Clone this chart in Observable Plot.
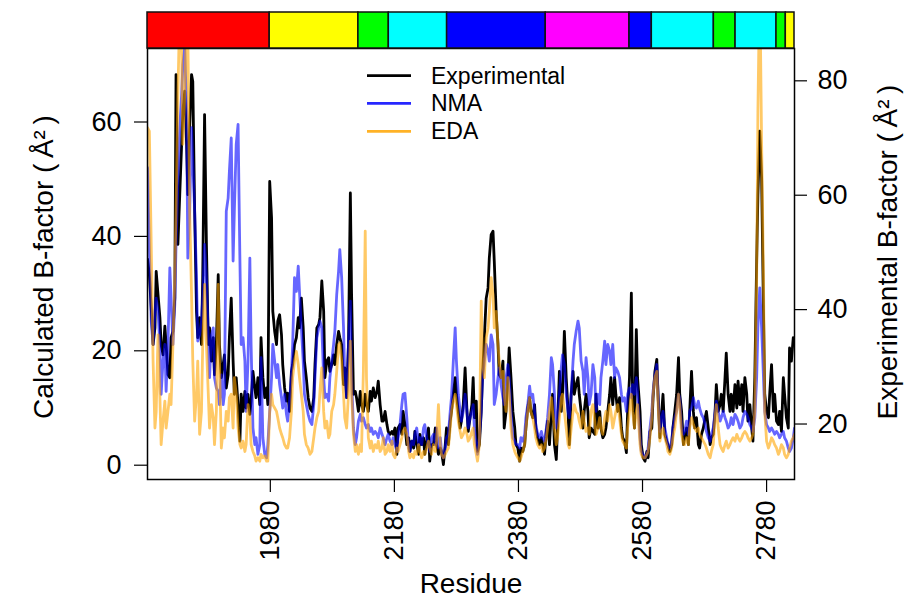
<!DOCTYPE html>
<html><head><meta charset="utf-8">
<script src="https://cdn.jsdelivr.net/npm/d3@7"></script>
<script src="https://cdn.jsdelivr.net/npm/@observablehq/plot@0.6"></script>
<style>
body{margin:0;background:#fff;font-family:"Liberation Sans",Arial,Helvetica,sans-serif}
#wrap{position:relative;width:909px;height:601px;overflow:hidden}
#wrap svg{position:absolute;left:0;top:0}
</style></head><body><div id="wrap"></div>
<script>
// Residue numbers (sampled)
const residue = [
1782,1785,1788,1791,1794,1796,1799,1802,1804,1807,1810,1812,1815,1818,1820,1823,1826,1828,1831,1834,1837,1839,1842,1845,1847,1850,1853,1855,1858,1861,1863,1866,1869,1871,1874,1877,1880,1882,1885,1888,1890,1893,1896,1898,1901,1904,1906,1909,1912,1914,1917,1920,1922,1925,1928,1931,1933,1936,1939,1941,1944,1947,1949,1952,1955,1957,1960,1963,1965,1968,1971,1974,1976,1979,1982,1984,1987,1990,1992,1995,1998,2000,2003,2006,2008,2011,2014,2016,2019,2022,2025,2027,2030,2033,2035,2038,2041,
2044,2047,2050,2052,2055,2058,2060,2063,2066,2068,2071,2074,2076,2079,2082,2084,2087,2090,2092,2095,2098,2100,2103,2106,2109,2111,2114,2117,2119,2122,2125,2127,2130,2133,2135,2138,2141,2143,2146,2149,2152,2154,2157,2160,2162,2165,2168,2170,2173,2176,2178,2181,2184,2186,2189,2192,2194,2197,2200,2203,2205,2208,2211,2213,2216,2219,2221,2224,2227,2229,2232,2235,2237,2240,2243,2246,2248,2251,2254,2256,2259,2262,2264,2267,2270,2272,2275,2278,2280,2283,2286,2288,2291,2294,2297,2299,2302,2305,2307,
2309,2312,2314,2317,2320,2322,2325,2328,2331,2333,2336,2339,2341,2344,2347,2349,2352,2355,2357,2360,2363,2365,2368,2371,2374,2376,2379,2382,2384,2387,2390,2392,2395,2398,2400,2403,2406,2408,2411,2414,2417,2419,2422,2425,2427,2430,2433,2435,2438,2441,2443,2446,2449,2451,2454,2457,2460,2462,2465,2468,2470,2473,2476,2478,2481,2484,2486,2489,2492,2494,2497,2500,2503,2505,2508,2511,2513,2516,2519,2521,2524,2527,2529,2532,2535,2537,2540,2543,2546,2548,2551,2554,2556,2559,2562,2564,2567,2570,2572,
2576,2578,2581,2584,2587,2589,2592,2595,2597,2600,2603,2605,2608,2611,2613,2616,2619,2621,2624,2627,2629,2632,2635,2638,2640,2643,2646,2648,2651,2654,2656,2659,2662,2664,2667,2670,2672,2675,2678,2681,2683,2686,2689,2691,2694,2697,2699,2702,2705,2707,2710,2713,2715,2718,2721,2723,2726,2729,2732,2734,2737,2740,2742,2745,2748,2750,2753,2756,2758,2761,2764,2766,2769,2772,2775,2777,2780,2783,2785,2788,2791,2793,2796,2799,2801,2804,2807,2809,2812,2815,2817,2820,2823,2825
];
// Experimental B-factor (right axis, Å²)
const experimental = [
48.8,46.1,40.3,33.9,36.8,46.7,42.6,38.6,33.9,32.1,37.1,33.9,28.6,28.1,35.1,36.2,42.0,81.1,51.4,60.1,
68.9,74.7,78.2,68.9,60.1,71.8,81.1,79.9,57.2,39.7,35.1,38.6,33.9,45.6,74.1,51.4,33.9,36.8,31.0,35.1,
28.6,33.9,46.1,33.9,28.1,30.4,32.1,26.3,28.6,35.1,42.0,31.0,25.2,28.1,23.4,17.0,25.2,22.2,25.7,22.8,
25.2,21.7,24.0,29.2,26.3,24.6,28.1,23.4,35.1,28.1,24.6,26.3,23.4,62.4,56.0,39.7,36.2,33.9,38.0,39.1,
35.6,30.4,26.3,24.0,25.4,22.2,29.2,30.4,33.9,35.1,38.6,36.8,42.0,36.8,31.0,28.1,24.6,
22.8,22.2,24.6,30.4,36.8,37.4,38.6,45.0,39.7,28.1,31.0,31.6,29.2,30.4,32.1,30.4,33.9,36.2,35.1,33.9,
26.9,29.8,24.6,33.9,60.4,42.6,25.2,25.7,24.6,22.2,25.7,23.4,22.2,25.2,23.4,22.2,25.7,24.0,26.3,24.6,
25.7,27.5,23.4,20.5,20.5,22.2,19.9,18.7,18.2,18.7,18.2,19.3,14.7,19.3,19.9,18.2,22.2,19.9,16.4,17.6,
15.2,17.0,15.8,18.7,16.4,14.7,18.2,16.4,17.6,14.7,17.0,19.3,13.5,16.4,16.4,19.3,16.4,14.7,15.8,15.2,
12.9,16.4,19.3,16.4,20.5,22.2,25.2,28.1,25.2,22.2,19.3,20.5,23.4,29.8,22.2,18.7,21.1,23.4,28.1,
21.1,24.0,15.2,16.4,22.2,28.1,35.1,42.0,43.8,49.0,53.1,53.7,48.5,39.7,33.9,28.6,28.1,31.0,19.3,22.2,
28.1,33.3,28.1,22.2,19.3,16.4,15.8,13.5,15.8,15.2,16.4,19.3,22.8,24.6,22.2,21.1,23.4,19.3,17.6,16.4,
17.6,16.4,14.7,18.7,20.5,16.4,22.2,25.2,16.4,13.8,19.3,29.2,22.2,25.2,36.2,28.1,22.2,16.4,25.2,29.2,
25.2,26.9,28.1,25.2,22.2,19.3,22.2,25.2,22.2,17.6,19.3,18.7,18.2,25.2,19.3,22.2,19.3,17.6,18.2,19.3,
22.2,25.2,28.1,23.4,28.1,25.2,22.2,24.6,19.3,17.6,17.0,15.0,22.2,28.1,42.9,25.2,19.3,36.5,28.1,
22.2,16.4,14.1,13.5,15.2,14.1,18.7,19.3,24.6,29.2,31.3,25.2,17.6,22.2,25.2,18.2,17.0,16.4,15.2,16.4,
19.3,22.2,25.2,31.6,25.2,22.2,16.4,17.6,19.3,16.4,22.2,29.2,22.2,19.3,21.1,16.4,15.8,18.2,19.3,21.1,
22.2,19.3,16.4,17.6,18.2,22.2,26.9,22.2,23.4,25.2,22.2,28.1,32.4,25.2,22.2,25.2,22.2,26.9,22.8,27.5,
23.4,26.9,22.2,28.1,25.2,20.5,23.4,19.3,17.0,28.1,48.5,60.1,71.2,63.0,39.7,25.2,22.2,21.1,25.2,30.4,
22.2,25.2,20.5,19.9,22.2,18.7,28.1,25.2,21.1,19.3,33.3,31.0,35.1,33.9
];
// NMA calculated B-factor (left axis, Å²)
const nma = [
52,38,25.2,21.1,26.9,29.2,26.9,21.1,12.4,18.2,21.1,12.9,21.1,34.5,29.2,21.1,28.1,38.6,49.1,59.0,
64.8,70.0,73.0,61.9,36.2,44.4,59.0,53.1,44.4,32.8,21.7,22.8,25.2,29.2,38.6,32.8,22.3,15.3,22.8,24.0,
15.3,13.5,12.9,10.6,15.8,10.6,12.4,44.4,46.7,51.4,57.2,35.7,44.4,56.1,59.6,35.7,21.1,22.3,18.2,9.4,
18.2,36.2,21.1,6.5,3.6,4.8,1.9,3.6,18.8,4.8,1.9,1.3,3.6,9.4,15.3,21.1,18.2,15.3,17.6,14.1,
11.8,10.0,12.4,8.9,7.7,11.2,15.8,21.1,32.8,30.4,34.8,30.4,24.0,18.2,12.4,10.6,8.9,
7.7,7.1,10.6,15.3,22.3,24.0,25.2,24.0,15.3,11.8,12.4,11.2,15.3,18.2,21.1,23.4,29.8,33.9,37.7,32.8,
24.0,15.3,11.8,21.1,28.7,15.3,6.5,3.6,4.8,7.7,8.9,7.7,8.3,7.1,6.5,7.1,5.9,6.5,5.4,5.9,
5.4,4.8,6.5,5.4,4.8,3.6,4.8,5.4,4.2,3.6,4.8,3.6,2.4,4.8,7.1,10.6,12.4,12.6,8.3,3.0,
2.4,4.2,3.6,5.4,6.5,3.6,4.8,3.6,6.5,7.1,4.8,3.6,2.4,4.8,5.4,3.6,6.5,3.0,4.8,2.4,
1.3,3.0,4.8,5.4,9.4,11.8,18.2,24.0,18.2,12.4,9.4,7.7,9.4,12.4,9.4,6.5,8.3,9.4,10.6,
6.5,3.6,1.9,4.8,9.4,15.3,18.2,21.1,19.9,18.2,22.8,21.1,10.6,12.4,15.3,17.0,14.1,11.8,10.6,15.3,
17.6,15.3,9.4,4.8,4.2,3.6,3.6,3.0,4.8,4.2,5.4,8.3,10.6,13.8,11.8,12.4,9.4,7.1,5.4,4.8,
5.9,4.8,4.2,6.5,8.3,12.4,18.8,17.6,12.4,6.5,7.7,12.4,17.0,19.3,17.6,12.4,9.4,8.3,12.4,18.2,
21.1,23.4,25.2,24.0,18.2,16.4,12.4,18.8,15.3,10.6,12.4,17.6,15.3,9.4,12.4,10.6,15.3,18.2,21.7,17.6,
21.1,19.9,17.6,21.1,15.3,17.0,16.4,15.3,12.4,11.2,11.8,9.4,12.4,13.5,11.8,14.1,12.4,15.3,12.4,
4.8,2.4,1.9,1.3,1.9,3.0,6.5,9.4,12.9,15.8,17.6,12.4,5.9,8.3,9.4,6.5,4.8,3.6,3.0,4.2,
6.5,8.3,9.4,12.4,11.8,6.5,5.4,5.9,7.7,5.4,9.4,10.0,11.8,10.6,10.0,11.2,10.0,8.9,8.3,7.1,
5.9,4.8,4.2,5.4,6.5,9.4,11.2,9.4,7.7,8.3,9.4,8.3,7.7,6.5,7.1,8.3,7.1,8.9,8.3,7.7,
6.5,7.1,8.3,9.4,8.9,8.3,7.1,6.5,5.9,8.3,15.3,24.0,31.0,24.0,15.3,9.4,7.1,6.5,5.9,6.5,
5.9,5.4,5.9,5.4,4.8,5.4,5.9,4.8,4.2,3.0,2.4,3.0,4.8,6.5
];
// EDA calculated B-factor (left axis, Å²)
const eda = [
59.0,58.4,38.6,18.2,6.5,9.4,22.8,11.8,3.6,7.7,11.2,6.5,9.4,12.4,10.6,21.1,32.8,44.4,64.8,80,
72.4,56.1,64.8,78,76,44.4,29.8,18.2,7.7,12.4,18.2,5.4,9.4,21.1,31.6,21.1,12.4,6.5,10.6,8.3,
3.6,9.4,31.6,18.2,3.0,6.5,4.8,9.4,7.7,11.8,12.4,6.5,15.3,12.4,6.5,3.6,3.0,4.2,2.4,3.6,
10.6,8.3,3.6,2.4,1.6,0.7,1.3,0.7,1.9,1.3,1.6,0.7,0.7,9.4,12.4,10.6,10.0,9.4,8.3,6.5,
5.4,4.8,3.6,3.0,3.0,4.8,9.4,15.3,18.2,19.9,17.6,15.3,12.4,9.4,5.4,3.6,3.0,
1.9,2.4,4.8,6.5,8.3,9.4,12.9,17.0,9.4,6.5,7.7,4.8,5.4,9.4,10.6,12.4,16.4,21.1,21.4,18.2,
12.4,8.3,6.5,12.4,21.7,12.4,5.4,2.4,3.6,1.9,3.6,2.4,16.4,40.9,15.3,4.8,3.0,4.2,2.4,3.6,
3.0,4.2,2.4,3.0,4.8,1.9,2.4,3.6,2.4,4.2,1.9,1.3,3.0,2.4,3.6,4.8,5.9,6.5,5.4,2.4,
1.3,1.9,1.3,2.4,1.9,3.6,2.4,1.3,2.4,1.9,3.0,4.2,3.0,1.9,3.6,2.4,4.2,10.6,3.6,1.9,
1.3,1.9,2.4,3.0,6.5,9.4,11.2,12.4,10.6,7.7,5.9,4.8,5.4,6.5,5.4,4.2,4.8,5.9,6.5,
3.6,1.9,0.7,3.6,28.7,18.2,15.3,22.3,24.0,26.9,32.8,29.8,24.0,26.9,21.1,18.2,15.3,16.4,12.4,9.4,
15.3,12.4,6.5,3.6,2.4,1.9,1.3,0.7,1.3,2.4,3.6,6.5,9.4,11.8,9.4,8.3,6.5,4.8,3.6,3.0,
3.6,2.4,3.0,4.8,6.5,9.4,11.8,9.4,6.5,3.6,4.8,8.3,11.8,12.4,9.4,6.5,3.6,3.0,6.5,9.4,
10.6,9.4,8.9,7.7,6.5,9.4,7.7,5.9,6.5,5.4,9.4,10.6,7.7,5.4,6.5,8.3,6.5,5.4,8.3,9.4,
7.7,10.6,9.4,6.5,8.3,9.4,10.6,8.3,5.4,4.2,3.6,3.0,6.5,9.4,12.4,9.4,6.5,9.4,10.6,
3.6,1.9,1.3,1.3,1.9,2.4,4.8,8.3,12.4,15.3,16.4,10.6,4.2,5.9,6.5,4.8,3.6,2.4,1.9,3.0,
4.8,6.5,9.4,12.4,10.6,5.4,3.6,3.6,4.8,3.6,6.5,8.3,7.1,6.5,5.9,6.5,5.4,4.8,4.2,3.6,
3.0,1.9,1.3,2.4,3.6,8.3,10.6,6.5,3.6,3.0,2.4,3.6,4.2,3.0,3.6,4.2,4.8,4.2,5.4,4.8,
4.2,4.8,5.4,5.9,5.4,4.8,4.2,4.8,5.4,9.4,32.8,61.9,85,56.1,32.8,9.4,4.2,3.0,3.6,4.8,
4.2,3.6,3.0,1.9,2.4,3.6,3.0,1.9,1.3,1.9,3.0,4.2,4.8,5.4
];
// Domain bar
const domainStart = [1782,1979,2122,2171,2265,2424,2559,2595,2695,2730,2796,2811];
const domainEnd   = [1979,2122,2171,2265,2424,2559,2595,2695,2730,2796,2811,2825];
const domainColor = ["#ff0000","#ffff00","#00ff00","#00ffff","#0000ff","#ff00ff","#0000ff","#00ffff","#00ff00","#00ffff","#00ff00","#ffff00"];
// Axes
const xTicks = [1980,2180,2380,2580,2780];
const calcTicks = [0,20,40,60];
const expTicks = [20,40,60,80];
const expOffset = 12.8;   // experimental axis is shifted relative to the calculated axis
const xDomain = [1782,2825];
const yDomain = [-2.5,72.85];
const seriesNames = ["Experimental","NMA","EDA"];
const seriesColors = ["#000000","#0000ff","#ffa500"];

if (residue.length!==experimental.length||residue.length!==nma.length||residue.length!==eda.length)
  throw new Error(`length mismatch ${residue.length} ${experimental.length} ${nma.length} ${eda.length}`);

const rows = residue.map((r,i)=>({residue:r, exp:experimental[i]-expOffset, nma:nma[i], eda:eda[i]}));
const domains = domainStart.map((s,i)=>({start:s,end:domainEnd[i],color:domainColor[i]}));

const W=909,H=601,mL=147,mR=115,mT=48,mB=122;
const font = '"Liberation Sans",Arial,Helvetica,sans-serif';
const wrap = document.getElementById("wrap");

const main = Plot.plot({
  width:W, height:H, marginLeft:mL, marginRight:mR, marginTop:mT, marginBottom:mB,
  style:{fontFamily:font, fontSize:"27px", background:"transparent", color:"#000", overflow:"visible"},
  x:{domain:xDomain},
  y:{domain:yDomain},
  marks:[
    Plot.line(rows,{x:"residue", y:"exp", stroke:seriesColors[0], strokeWidth:2.8, clip:true}),
    Plot.line(rows,{x:"residue", y:"nma", stroke:seriesColors[1], strokeOpacity:0.6, strokeWidth:2.8, clip:true}),
    Plot.line(rows,{x:"residue", y:"eda", stroke:seriesColors[2], strokeOpacity:0.6, strokeWidth:2.8, clip:true}),
    Plot.frame({stroke:"#000", strokeWidth:1.5}),
    Plot.axisX({ticks:xTicks, tickSize:13, tickRotate:-90, tickPadding:8, tickFormat:d=>String(d), label:null, fontSize:27, textAnchor:"end", lineAnchor:"middle", strokeWidth:1.2}),
    Plot.axisY({ticks:calcTicks, anchor:"left", tickSize:13, tickPadding:13, label:null, fontSize:27, strokeWidth:1.2}),
    Plot.axisY({ticks:expTicks.map(e=>e-expOffset), tickFormat:v=>String(Math.round(v+expOffset)), anchor:"right", tickSize:12, tickPadding:11, label:null, fontSize:27, strokeWidth:1.2}),
    Plot.text(["Residue"], {frameAnchor:"bottom", dy:105, fontSize:28, textAnchor:"middle", lineAnchor:"middle"}),
    Plot.text(["Calculated B-factor (\u2009Å²\u2009)"], {frameAnchor:"left", dx:-103.5, dy:3, rotate:-90, fontSize:28, textAnchor:"middle", lineAnchor:"middle"}),
    Plot.text(["Experimental B-factor (\u2009Å²\u2009)"], {frameAnchor:"right", dx:94, dy:-12, rotate:-90, fontSize:28, textAnchor:"middle", lineAnchor:"middle"})
  ]
});
wrap.appendChild(main);

const bar = Plot.plot({
  width:W, height:mT, marginLeft:mL, marginRight:mR, marginTop:12, marginBottom:0,
  style:{background:"transparent", overflow:"visible"},
  x:{domain:xDomain, axis:null},
  color:{type:"identity"},
  marks:[
    Plot.rect(domains,{x1:"start", x2:"end", fill:"color", stroke:"#111", strokeWidth:1.5})
  ]
});
wrap.appendChild(bar);

// Legend (inside plot area)
const leg = d3.create("svg").attr("width",W).attr("height",H)
  .style("font-family",font).style("font-size","23px");
const legY = [75.7,103.3,131.3];
seriesNames.forEach((n,i)=>{
  leg.append("line").attr("x1",367).attr("x2",411).attr("y1",legY[i]).attr("y2",legY[i])
    .attr("stroke",seriesColors[i]).attr("stroke-width",2.8).attr("stroke-opacity", i===0?1:0.85);
  leg.append("text").attr("x",431).attr("y",legY[i]).attr("dominant-baseline","central").text(n);
});
wrap.appendChild(leg.node());
</script></body></html>
